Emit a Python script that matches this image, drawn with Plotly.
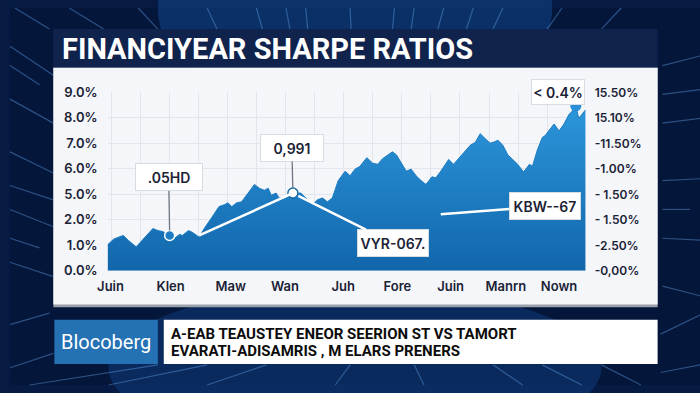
import plotly.graph_objects as go

# ---------------- data ----------------
# x: trading-session index, y: ratio in grid units of the left scale
sessions = [0, 6, 11, 16, 21, 29, 36, 46, 51, 56, 63, 68, 73, 76, 82, 86, 93, 98,
            106, 113, 119, 122, 126, 131, 136, 141, 149, 154, 159, 163, 166, 171,
            174, 181, 188, 196, 203, 208, 213, 218, 223, 228, 234, 241, 246, 251,
            256, 263, 269, 274, 279, 284, 289, 293, 298, 303, 308, 313, 318, 323,
            329, 333, 338, 346, 351, 359, 368, 373, 378, 383, 388, 391, 396, 401,
            406, 411, 416, 422, 428, 431, 436, 441, 444, 449, 453, 458, 463, 468,
            471, 475, 478, 481, 485]
ratio = [1.02, 1.24, 1.32, 1.39, 1.20, 0.94, 1.24, 1.66, 1.58, 1.54, 1.39, 1.28,
         1.43, 1.39, 1.58, 1.51, 1.32, 1.66, 2.11, 2.52, 2.60, 2.67, 2.52, 2.67,
         2.71, 2.97, 3.39, 3.24, 3.16, 3.24, 2.97, 3.05, 2.86, 2.86, 3.05, 3.05,
         2.79, 2.60, 2.79, 2.86, 2.71, 2.86, 3.54, 3.91, 3.73, 3.99, 4.10, 4.44,
         4.22, 4.18, 4.40, 4.55, 4.67, 4.55, 4.22, 3.91, 3.99, 3.73, 3.54, 3.39,
         3.69, 3.65, 3.91, 4.37, 4.18, 4.55, 4.93, 5.04, 5.38, 5.19, 5.01, 5.04,
         5.12, 4.93, 4.55, 4.37, 4.18, 3.88, 4.18, 4.10, 4.74, 5.23, 5.31, 5.57,
         5.76, 5.49, 5.76, 6.13, 6.25, 6.47, 5.98, 6.13, 6.32]

month_labels = ["Juin", "Klen", "Maw", "Wan", "Juh", "Fore", "Juin", "Manrn", "Nown"]
month_pos = [3, 64, 125, 180, 239, 294, 348, 404, 458]

left_labels = ["0.0%", "1.0%", "2.0%", "5.0%", "6.0%", "7.0%", "8.0%", "9.0%"]
right_labels = ["-0,00%", "-2.50%", "- 1.50%", "- 1.50%", "-1.00%", "-11.50%", "15.10%", "15.50%"]

title_text = "FINANCIYEAR SHARPE RATIOS"
brand_text = "Blocoberg"
ticker_lines = ["A-EAB TEAUSTEY ENEOR SEERION ST VS TAMORT",
                "EVARATI-ADISAMRIS , M ELARS PRENERS"]

# callouts: (label, series index)
callout_a = (".05HD", 10)
callout_b = ("0,991", 34)
callout_c = ("< 0.4%", 89)
trend_start_idx = 16
callout_d = ("VYR-067.", 286, 1.60)
callout_e = ("KBW--67", 338, 2.22)

# ---------------- helpers ----------------
W, H = 700, 393
def px(p):
    return p / W
def py(p):
    return 1 - p / H

NAVY_TXT = "#1b2236"
fig = go.Figure()

fig.add_trace(go.Scatter(
    x=sessions, y=ratio, mode="lines", fill="tozeroy",
    line=dict(color="#1d7cc3", width=1),
    fillgradient=dict(type="vertical",
                      colorscale=[[0, "#1266ab"], [1, "#2c96db"]]),
    hoverinfo="skip", showlegend=False,
))
# dummy trace for right axis
fig.add_trace(go.Scatter(x=[sessions[0]], y=[0], yaxis="y2", mode="markers",
                         marker=dict(opacity=0), showlegend=False, hoverinfo="skip"))

# markers
ia, ib, ic = callout_a[1], callout_b[1], callout_c[1]
fig.add_trace(go.Scatter(x=[sessions[ia]], y=[ratio[ia]], mode="markers",
                         marker=dict(size=10, color="#1d7cc3", line=dict(color="white", width=1.5)),
                         showlegend=False, hoverinfo="skip"))
fig.add_trace(go.Scatter(x=[sessions[ic]], y=[ratio[ic]], mode="markers",
                         marker=dict(size=11, color="#2a8fd8", line=dict(color="#2a8fd8", width=0)),
                         showlegend=False, hoverinfo="skip"))

shapes = []
# background glow
shapes.append(dict(type="rect", xref="paper", yref="paper", x0=0, x1=1, y0=0, y1=1,
                   fillcolor="#05163b", line=dict(width=0), layer="below"))
shapes.append(dict(type="circle", xref="paper", yref="paper", x0=px(150), x1=px(550),
                   y0=py(120), y1=py(-120), fillcolor="rgba(20,80,160,0.45)",
                   line=dict(width=0), layer="below"))
shapes.append(dict(type="circle", xref="paper", yref="paper", x0=px(100), x1=px(600),
                   y0=py(460), y1=py(290), fillcolor="rgba(20,80,160,0.35)",
                   line=dict(width=0), layer="below"))
# background streaks (decorative)
streaks = [
    (0, 40, 44, 70), (0, 95, 44, 120), (0, 150, 44, 172), (0, 210, 44, 228), (0, 265, 44, 280),
    (0, 60, 30, 80), (0, 185, 44, 200), (0, 240, 30, 250),
    (5, 0, 40, 22), (60, 0, 95, 22), (130, 0, 150, 22), (200, 0, 210, 22), (250, 0, 256, 22),
    (300, 0, 302, 22), (345, 0, 346, 22), (390, 0, 388, 22), (440, 0, 434, 22), (500, 0, 490, 22),
    (560, 0, 545, 22), (620, 0, 600, 22), (280, 0, 284, 22), (410, 0, 407, 22), (470, 0, 463, 22),
    (0, 330, 40, 318), (0, 375, 44, 360), (20, 393, 150, 372), (200, 393, 260, 372),
    (330, 393, 345, 372), (420, 393, 410, 372), (520, 393, 490, 372), (640, 393, 600, 372),
    (660, 340, 700, 320), (660, 380, 700, 372), (100, 393, 200, 372), (580, 393, 540, 372),
    (662, 60, 700, 50), (662, 120, 700, 115), (662, 180, 700, 178), (662, 240, 700, 242),
    (662, 290, 700, 300), (662, 90, 700, 85), (662, 210, 690, 210),
]
for (x0, y0, x1, y1) in streaks:
    shapes.append(dict(type="line", xref="paper", yref="paper", x0=px(x0), y0=py(y0),
                       x1=px(x1), y1=py(y1), line=dict(color="rgba(100,170,240,0.4)", width=1.2),
                       layer="below"))
# panel
shapes.append(dict(type="rect", xref="paper", yref="paper", x0=px(44), x1=px(657),
                   y0=py(312), y1=py(62), fillcolor="#9aa1aa", line=dict(width=0), layer="below"))
shapes.append(dict(type="rect", xref="paper", yref="paper", x0=px(44), x1=px(657),
                   y0=py(309), y1=py(62), fillcolor="#f4f6f9", line=dict(width=0), layer="below"))
shapes.append(dict(type="rect", xref="paper", yref="paper", x0=px(44), x1=px(657),
                   y0=py(62), y1=py(22), fillcolor="#10234d", line=dict(width=0), layer="below"))
# lower third
shapes.append(dict(type="rect", xref="paper", yref="paper", x0=px(45), x1=px(150),
                   y0=py(371), y1=py(325), fillcolor="#2471b4", line=dict(width=0), layer="below"))
shapes.append(dict(type="rect", xref="paper", yref="paper", x0=px(156), x1=px(657),
                   y0=py(371), y1=py(325), fillcolor="#ffffff", line=dict(width=0), layer="below"))
# white trend line into the 0,991 point
shapes.append(dict(type="line", xref="x", yref="y",
                   x0=sessions[trend_start_idx], y0=ratio[trend_start_idx] + 0.07,
                   x1=sessions[ib], y1=ratio[ib],
                   line=dict(color="white", width=2.5)))

annotations = []
annotations.append(dict(xref="paper", yref="paper", x=px(51), y=py(43), xanchor="left",
                        yanchor="middle", text=title_text, showarrow=False,
                        font=dict(family="Roboto", size=29, color="white", weight="bold")))
annotations.append(dict(xref="paper", yref="paper", x=px(97.5), y=py(348), xanchor="center",
                        yanchor="middle", text=brand_text, showarrow=False,
                        font=dict(family="Roboto", size=20, color="white")))
annotations.append(dict(xref="paper", yref="paper", x=px(161), y=py(339.5), xanchor="left",
                        yanchor="middle", text=ticker_lines[0], showarrow=False,
                        font=dict(family="Roboto", size=15, color="#0c0c0c", weight="bold")))
annotations.append(dict(xref="paper", yref="paper", x=px(161), y=py(358), xanchor="left",
                        yanchor="middle", text=ticker_lines[1], showarrow=False,
                        font=dict(family="Roboto", size=15, color="#0c0c0c", weight="bold")))

box_font = dict(family="Inter", size=14, color=NAVY_TXT, weight=600)
box_common = dict(bgcolor="white", bordercolor="#d6dce4", borderwidth=1, borderpad=0,
                  font=box_font, valign="middle", align="center")
# .05HD callout
annotations.append(dict(x=sessions[ia], y=ratio[ia], xref="x", yref="y", text=callout_a[0],
                        showarrow=True, arrowhead=0, arrowwidth=1.3, arrowcolor="#6f7683",
                        standoff=5, ax=-1, ay=-58, width=66, height=26, **box_common))
# 0,991 callout
annotations.append(dict(x=sessions[ib], y=ratio[ib], xref="x", yref="y", text=callout_b[0],
                        showarrow=True, arrowhead=0, arrowwidth=1.3, arrowcolor="#6f7683",
                        standoff=5, ax=-1, ay=-45, width=62, height=26, **box_common))
# VYR callout with white connector from the 0,991 point
annotations.append(dict(x=sessions[ib], y=ratio[ib], xref="x", yref="y", text=callout_d[0],
                        showarrow=True, arrowhead=0, arrowwidth=2.5, arrowcolor="white",
                        standoff=6, ax=100, ay=50, width=70, height=26, **box_common))
# KBW callout with white connector
annotations.append(dict(x=callout_e[1], y=callout_e[2], xref="x", yref="y", text=callout_e[0],
                        showarrow=True, arrowhead=0, arrowwidth=2.5, arrowcolor="white",
                        standoff=0, ax=104, ay=-8, width=70, height=26, **box_common))
# < 0.4% callout
annotations.append(dict(x=sessions[ic], y=ratio[ic], xref="x", yref="y", text=callout_c[0],
                        showarrow=False, xshift=-18, yshift=14, width=52, height=24, **box_common))

fig.add_trace(go.Scatter(x=[sessions[ib]], y=[ratio[ib]], mode="markers",
                         marker=dict(size=10, color="white", line=dict(color="#1d6eab", width=1.5)),
                         showlegend=False, hoverinfo="skip"))

tick_font = dict(family="Inter", size=13, color=NAVY_TXT, weight=600)
fig.update_layout(
    width=W, height=H, margin=dict(l=0, r=0, t=0, b=0),
    paper_bgcolor="#061a43", plot_bgcolor="rgba(0,0,0,0)",
    shapes=shapes, annotations=annotations, showlegend=False,
    xaxis=dict(domain=[px(99), px(584)], range=[sessions[0], sessions[-1]],
               tickmode="array", tickvals=month_pos, ticktext=month_labels,
               showgrid=False, zeroline=False, showline=False, ticks="",
               tickfont=tick_font, ticklabelstandoff=6,
               minor=dict(tickmode="linear", tick0=33, dtick=29.5, showgrid=True,
                          gridcolor="#e2e6ec", gridwidth=1, ticks="")),
    yaxis=dict(domain=[py(274), py(88)], range=[0, 7], tickmode="array",
               tickvals=list(range(len(left_labels))), ticktext=left_labels,
               showgrid=True, gridcolor="#e2e6ec", gridwidth=1, zeroline=False,
               showline=False, ticks="", tickfont=tick_font, ticklabelstandoff=9),
    yaxis2=dict(domain=[py(274), py(88)], range=[0, 7], overlaying="y", side="right",
                anchor="x", tickmode="array", tickvals=list(range(len(right_labels))),
                ticktext=right_labels, showgrid=False, zeroline=False, showline=False,
                ticks="", tickfont=dict(family="Inter", size=12, color=NAVY_TXT, weight=600),
                ticklabelstandoff=8),
)

fig.write_html("out.html")
